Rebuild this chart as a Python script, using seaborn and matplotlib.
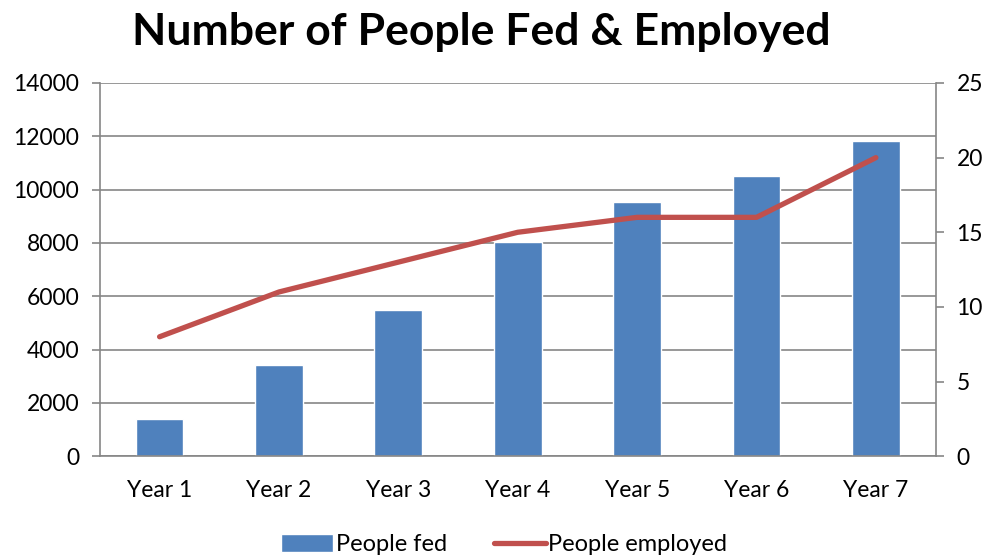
import numpy as np
import pandas as pd
import seaborn as sns
import matplotlib.pyplot as plt
from matplotlib.ticker import FixedLocator

years = ["Year 1", "Year 2", "Year 3", "Year 4", "Year 5", "Year 6", "Year 7"]
people_fed = [1390, 3420, 5480, 8050, 9520, 10520, 11820]
people_employed = [8, 11, 13, 15, 16, 16, 20]

df = pd.DataFrame({"year": years, "fed": people_fed, "employed": people_employed})

sns.set_theme(style="white")
plt.rcParams["font.family"] = ["Lato", "DejaVu Sans"]
plt.rcParams["text.color"] = "black"

BLUE = "#4F81BD"
RED = "#C0504D"
GRAY = "#868686"

fig = plt.figure(figsize=(9.89, 5.57), dpi=100)
ax = fig.add_axes([0.101, 0.181, 0.845, 0.67])

sns.barplot(data=df, x="year", y="fed", color=BLUE, width=0.4, saturation=1,
            ax=ax, label="People fed", zorder=2)
if ax.get_legend() is not None:
    ax.get_legend().remove()
ax.set_ylim(0, 14000)
ax.set_yticks(np.arange(0, 14001, 2000))
ax.set_xlim(-0.5, len(years) - 0.5)
ax.yaxis.grid(True, color=GRAY, linewidth=1.2, zorder=0)
ax.set_axisbelow(True)
ax.set_xlabel("")
ax.set_ylabel("")

ax2 = ax.twinx()
sns.lineplot(data=df, x="year", y="employed", color=RED, linewidth=3.8,
             sort=False, ax=ax2, label="People employed", legend=False)
ax2.set_ylim(0, 25)
ax2.set_yticks(np.arange(0, 26, 5))
ax2.set_ylabel("")

for a in (ax, ax2):
    for s in a.spines.values():
        s.set_visible(False)
    a.tick_params(axis="y", labelsize=16.5, colors=GRAY, labelcolor="black",
                  length=6, width=1.2, direction="out", pad=9)
for a, side in ((ax, "left"), (ax, "bottom"), (ax2, "right")):
    a.spines[side].set_visible(True)
    a.spines[side].set_color(GRAY)
    a.spines[side].set_linewidth(1.2)

# category labels centred, tick marks on category boundaries
ax.tick_params(axis="x", which="major", length=0, labelsize=16.5, pad=17, labelcolor="black")
ax.xaxis.set_minor_locator(FixedLocator(np.arange(-0.5, len(years), 1.0)))
ax.tick_params(axis="x", which="minor", length=6, width=1.2, color=GRAY, direction="out")

fig.suptitle("Number of People Fed & Employed", fontsize=32, fontweight="bold",
             x=0.487, y=0.978, color="black")

h1, l1 = ax.get_legend_handles_labels()
h2, l2 = ax2.get_legend_handles_labels()
leg = fig.legend(h1 + h2, l1 + l2, loc="lower center", ncol=2, frameon=False,
                 fontsize=17, bbox_to_anchor=(0.51, -0.035), handlelength=2.2,
                 handleheight=0.8, handletextpad=0.1, columnspacing=2.0)

fig.savefig("out.png", dpi=100)
